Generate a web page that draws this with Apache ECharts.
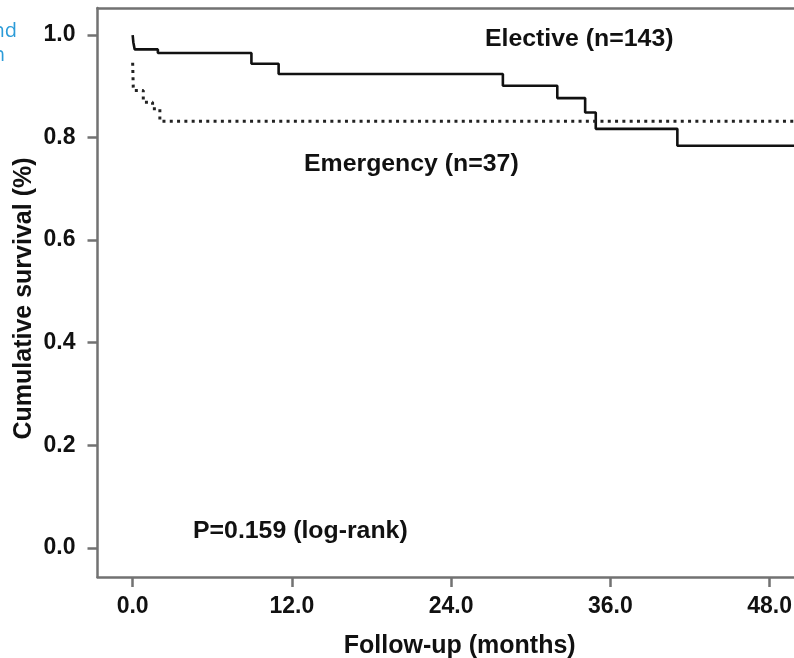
<!DOCTYPE html>
<html>
<head>
<meta charset="utf-8">
<script src="https://cdn.jsdelivr.net/npm/echarts@6/dist/echarts.min.js"></script>
<style>
html,body{margin:0;padding:0;background:#fff;}
#chart{width:794px;height:658px;}
</style>
</head>
<body>
<div id="chart"></div>
<script>
// Kaplan-Meier step points (month, cumulative survival)
const electiveMonths   = [0, 0.05, 0.1, 0.15, 1.9, 8.95, 11.0, 27.9, 32.0, 34.1, 34.9, 41.05, 52];
const electiveSurvival = [1.0, 0.986, 0.979, 0.972, 0.965, 0.944, 0.924, 0.901, 0.877, 0.849, 0.817, 0.784, 0.784];
const emergencyMonths   = [0, 0.05, 0.8, 1.5, 2.05, 52];
const emergencySurvival = [0.946, 0.892, 0.869, 0.856, 0.832, 0.832];
const xTicks = [0, 12, 24, 36, 48];
const yTicks = [0, 0.2, 0.4, 0.6, 0.8, 1.0];
const labelElective = 'Elective (n=143)';
const labelEmergency = 'Emergency (n=37)';
const labelP = 'P=0.159 (log-rank)';
const xTitle = 'Follow-up (months)';
const yTitle = 'Cumulative survival (%)';

const FONT = '"Liberation Sans", Arial, sans-serif';
const AXC = '#727272';
const X_MIN = -2.65, X_MAX = 49.84;
const chart = echarts.init(document.getElementById('chart'), null, {renderer: 'canvas'});

function pairs(xs, ys){ return xs.map((x,i)=>[x, ys[i]]); }

function annot(text, x, y){
  return {
    type: 'text', x: x, y: y, scaleX: 1.08, z: 10,
    style: {text: text, x: 0, y: 0, fill: '#111', font: 'bold 23px ' + FONT,
            textAlign: 'left', textVerticalAlign: 'middle'}
  };
}

chart.setOption({
  backgroundColor: '#fff',
  animation: false,
  grid: {left: 97.5, top: 8, right: 0, height: 569, show: false, outerBoundsMode: 'none', containLabel: false},
  xAxis: [{
    type: 'value', min: X_MIN, max: X_MAX,
    name: xTitle, nameLocation: 'middle', nameGap: 57, nameMoveOverlap: false,
    nameTextStyle: {fontFamily: FONT, fontWeight: 'bold', fontSize: 25, color: '#111',
                    padding: [0, 0, 0, 28]},
    axisLine: {show: true, onZero: false, lineStyle: {color: AXC, width: 2.5}},
    axisTick: {show: true, length: 10, customValues: xTicks, lineStyle: {color: AXC, width: 2.5}},
    axisLabel: {customValues: xTicks, margin: 18, fontFamily: FONT, fontWeight: 'bold', fontSize: 23,
                color: '#111', formatter: v => v.toFixed(1)},
    splitLine: {show: false}
  }, {
    type: 'value', position: 'top', min: X_MIN, max: X_MAX,
    axisLine: {show: true, onZero: false, lineStyle: {color: AXC, width: 2.5}},
    axisTick: {show: false}, axisLabel: {show: false}, splitLine: {show: false}
  }],
  yAxis: {
    type: 'value', min: -0.057, max: 1.0527,
    name: yTitle, nameLocation: 'middle', nameGap: 61, nameMoveOverlap: false,
    nameTextStyle: {fontFamily: FONT, fontWeight: 'bold', fontSize: 25, color: '#111',
                    padding: [0, 12, 0, 0]},
    axisLine: {show: true, onZero: false, lineStyle: {color: AXC, width: 2.5}},
    axisTick: {show: true, length: 10, customValues: yTicks, lineStyle: {color: AXC, width: 2.5}},
    axisLabel: {customValues: yTicks, margin: 22, fontFamily: FONT, fontWeight: 'bold', fontSize: 23,
                color: '#111', formatter: v => v.toFixed(1)},
    splitLine: {show: false}
  },
  series: [
    {name: labelElective, type: 'line', step: 'end', symbol: 'none', clip: true,
     data: pairs(electiveMonths, electiveSurvival),
     lineStyle: {color: '#111', width: 2.6}},
    {name: labelEmergency, type: 'line', step: 'end', symbol: 'none', clip: true,
     data: pairs(emergencyMonths, emergencySurvival),
     lineStyle: {color: '#222', width: 3, type: [3, 4.3]}}
  ],
  graphic: [
    annot(labelElective, 485, 40),
    annot(labelEmergency, 304, 165),
    annot(labelP, 193, 532),
    {type: 'text', x: 17, y: 21, style: {text: 'nd', fill: '#2b9bd8', font: '20px "Open Sans", sans-serif',
      textAlign: 'right', textVerticalAlign: 'alphabetic'}},
    {type: 'text', x: 5, y: 45, style: {text: 'n', fill: '#2b9bd8', font: '20px "Open Sans", sans-serif',
      textAlign: 'right', textVerticalAlign: 'alphabetic'}}
  ]
});
</script>
</body>
</html>
